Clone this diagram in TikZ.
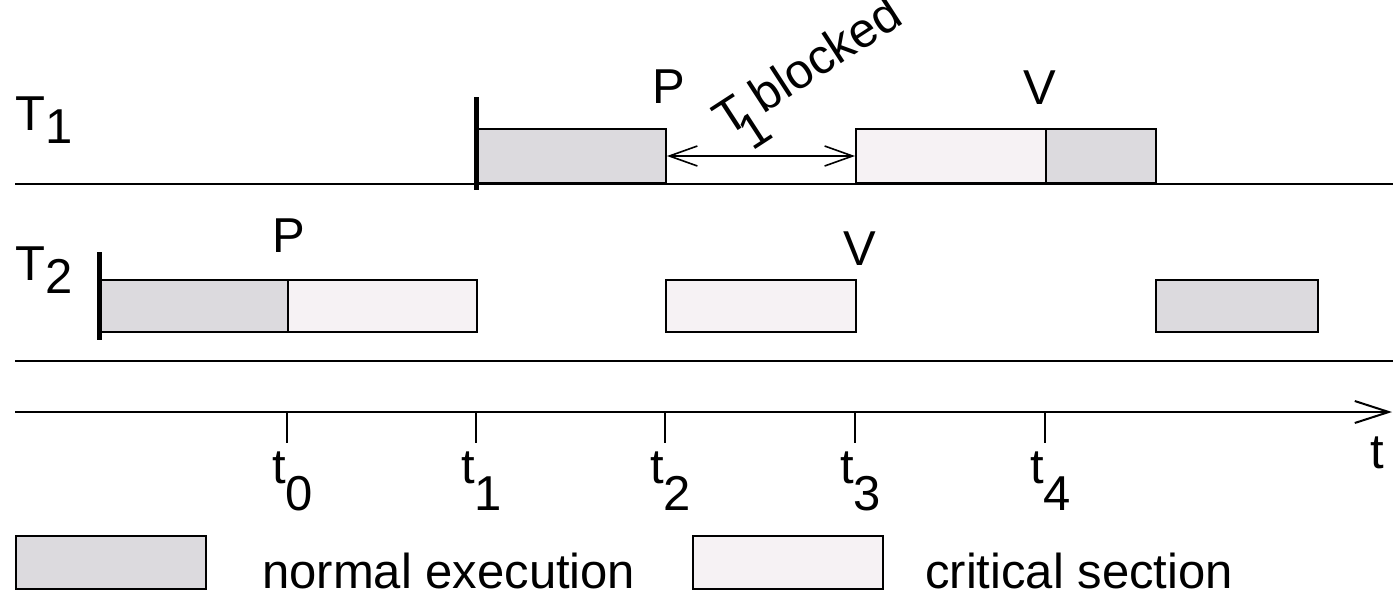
\documentclass[tikz,border=0pt]{standalone}
\usepackage{fontspec}
\setmainfont{Liberation Sans}
\usetikzlibrary{arrows.meta}
\definecolor{normalc}{RGB}{220,218,222}
\definecolor{critc}{RGB}{246,242,244}
\begin{document}
\begin{tikzpicture}[x=1pt,y=-1pt,
  font=\fontsize{49}{58}\selectfont,
  lbl/.style={inner sep=0pt, anchor=base},
  lblw/.style={inner sep=0pt, anchor=base west},
  normalbox/.style={draw, line width=2pt, fill=normalc, inner sep=0pt, anchor=south west},
  critbox/.style={draw, line width=2pt, fill=critc, inner sep=0pt, anchor=south west},
  baseline/.style={line width=2pt},
  startbar/.style={line width=5pt},
  tickline/.style={line width=2pt},
  axisline/.style={line width=2pt, -{Straight Barb[length=34pt,width=22pt,line width=2pt]}},
  blockarrow/.style={line width=1.6pt, {Straight Barb[length=28pt,width=20pt,line width=1.6pt]}-{Straight Barb[length=28pt,width=20pt,line width=1.6pt]}}
]
\useasboundingbox (0,0) rectangle (1393,595);

% base lines
\coordinate (l1a) at (15,184); \coordinate (l1b) at (1393,184);
\coordinate (l2a) at (15,361); \coordinate (l2b) at (1393,361);
\draw[baseline] (l1a) -- (l1b);
\draw[baseline] (l2a) -- (l2b);

% T1 boxes
\node[normalbox, minimum width=189pt, minimum height=54pt] (n1) at (476,184) {};
\node[critbox, minimum width=190pt, minimum height=54pt] (c1) at (855,184) {};
\node[normalbox, minimum width=110pt, minimum height=54pt] (n2) at (1045,184) {};

% T2 boxes
\node[normalbox, minimum width=188pt, minimum height=52pt] (n3) at (99,333) {};
\node[critbox, minimum width=189pt, minimum height=52pt] (c2) at (287,333) {};
\node[critbox, minimum width=190pt, minimum height=52pt] (c3) at (665,333) {};
\node[normalbox, minimum width=162pt, minimum height=52pt] (n4) at (1155,333) {};

% start bars
\coordinate (s1a) at (476,97); \coordinate (s1b) at (476,190);
\coordinate (s2a) at (99,252); \coordinate (s2b) at (99,340);
\draw[startbar] (s1a) -- (s1b);
\draw[startbar] (s2a) -- (s2b);

% labels T1, T2
\node[lblw] (T1) at (15,130) {T\raisebox{-13pt}{1}};
\node[lblw] (T2) at (15,280) {T\raisebox{-13pt}{2}};

% P / V labels
\node[lbl] (P1) at (669,103) {P};
\node[lbl] (V1) at (1040,104) {V};
\node[lbl] (P2) at (289,252) {P};
\node[lbl] (V2) at (860,265) {V};

% blocked arrow
\draw[blockarrow] (n1.east) -- (c1.west);
\node[lblw, rotate=33] (blk) at (727,138) {T\hspace{-16pt}\raisebox{-25pt}{1}\hspace{2pt}blocked};

% time axis
\coordinate (ax0) at (15,412); \coordinate (ax1) at (1392,412);
\draw[axisline] (ax0) -- (ax1);
\node[lblw] (tl) at (1370,468) {t};

\foreach \x/\i in {287/0,476/1,665/2,855/3,1045/4}{
  \coordinate (tk\i) at (\x,412);
  \coordinate (tkb\i) at (\x,443);
  \draw[tickline] (tk\i) -- (tkb\i);
  \node[lblw] (tt\i) at (\x-15,483) {t\raisebox{-27pt}{\i}};
}

% legend
\node[normalbox, minimum width=190pt, minimum height=53pt] (legn) at (15,590) {};
\node[lblw] (legnt) at (262,588) {normal execution};
\node[critbox, minimum width=190pt, minimum height=53pt] (legc) at (692,590) {};
\node[lblw] (legct) at (925,588) {critical section};
\end{tikzpicture}
\end{document}
